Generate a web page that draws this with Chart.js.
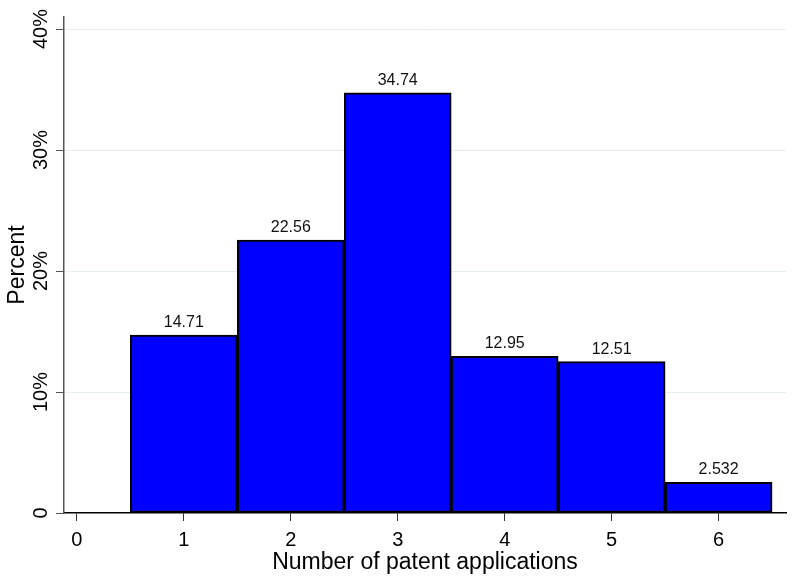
<!DOCTYPE html>
<html>
<head>
<meta charset="utf-8">
<title>Number of patent applications</title>
<script src="https://cdn.jsdelivr.net/npm/chart.js@4.4.1/dist/chart.umd.min.js"></script>
<style>
  html, body { margin: 0; padding: 0; background: #fff; }
  #wrap { width: 792px; height: 584px; position: relative; }
</style>
</head>
<body>
<div id="wrap"><canvas id="hist"></canvas></div>
<script>
  "use strict";

  // Data
  var applications = [1, 2, 3, 4, 5, 6];
  var percents = [14.71, 22.56, 34.74, 12.95, 12.51, 2.532];
  var yTicks = [0, 10, 20, 30, 40];
  var xTicks = [0, 1, 2, 3, 4, 5, 6];

  Chart.defaults.font.family = '"Liberation Sans", Arial, sans-serif';
  Chart.defaults.color = "#000";

  // Bar value labels
  var barLabels = {
    id: "barLabels",
    afterDatasetsDraw: function (chart) {
      var ctx = chart.ctx;
      var meta = chart.getDatasetMeta(0);
      ctx.save();
      ctx.font = '16px "Liberation Sans", Arial, sans-serif';
      ctx.fillStyle = "#111";
      ctx.textAlign = "center";
      ctx.textBaseline = "alphabetic";
      meta.data.forEach(function (bar, i) {
        ctx.fillText(String(percents[i]), bar.x, bar.y - 8);
      });
      ctx.restore();
    },
  };

  var ctx = document.getElementById("hist").getContext("2d");
  var myChart = new Chart(ctx, {
    type: "bar",
    data: {
      datasets: [
        {
          data: applications.map(function (a, i) {
            return { x: a, y: percents[i] };
          }),
          backgroundColor: "#0000ff",
          borderColor: "#000",
          borderWidth: 2,
          borderSkipped: false,
          barPercentage: 1,
          categoryPercentage: 1,
        },
      ],
    },
    options: {
      responsive: true,
      maintainAspectRatio: false,
      animation: false,
      layout: { padding: { left: 0, top: 17, right: 6, bottom: 0 } },
      plugins: {
        legend: { display: false },
        tooltip: { enabled: false },
      },
      scales: {
        x: {
          type: "linear",
          offset: false,
          min: -0.12,
          max: 6.63,
          afterBuildTicks: function (scale) {
            scale.ticks = xTicks.map(function (v) { return { value: v }; });
          },
          afterFit: function (scale) {
            scale.height = 71;
          },
          ticks: {
            stepSize: 1,
            padding: 7,
            font: { size: 20 },
            callback: function (v) { return String(v); },
          },
          grid: {
            offset: false,
            drawOnChartArea: false,
            tickLength: 8,
            tickColor: "#333",
          },
          border: { color: "#000", width: 1.5 },
          title: {
            display: true,
            text: "Number of patent applications",
            font: { size: 23 },
            padding: { top: 0, bottom: 8 },
          },
        },
        y: {
          min: 0,
          max: 41,
          afterBuildTicks: function (scale) {
            scale.ticks = yTicks.map(function (v) { return { value: v }; });
          },
          afterFit: function (scale) {
            scale.width = 64;
          },
          ticks: {
            stepSize: 10,
            padding: -5,
            minRotation: 90,
            maxRotation: 90,
            crossAlign: "center",
            font: { size: 20 },
            callback: function (v) { return v === 0 ? "0" : v + "%"; },
          },
          grid: {
            tickLength: 8,
            tickColor: "#555",
            color: function (c) {
              return c.tick && c.tick.value === 0 ? "rgba(0,0,0,0)" : "#e4eef2";
            },
          },
          border: { color: "#555", width: 1.5 },
          title: {
            display: true,
            text: "Percent",
            font: { size: 23 },
            padding: { top: 4, bottom: 0 },
          },
        },
      },
    },
    plugins: [barLabels],
  });
</script>
</body>
</html>
